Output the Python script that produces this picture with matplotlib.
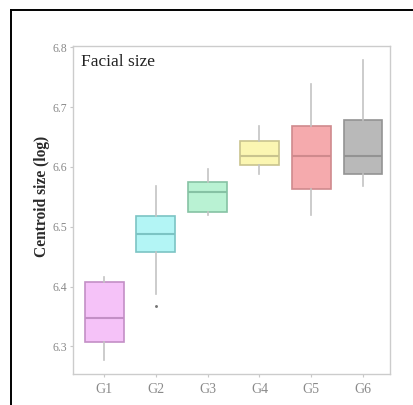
import matplotlib
matplotlib.use("Agg")
import matplotlib.pyplot as plt
from matplotlib.lines import Line2D

groups = ["G1", "G2", "G3", "G4", "G5", "G6"]
q1 = [6.307, 6.458, 6.525, 6.603, 6.563, 6.588]
med = [6.348, 6.488, 6.558, 6.618, 6.618, 6.618]
q3 = [6.408, 6.518, 6.575, 6.643, 6.668, 6.678]
wlo = [6.278, 6.388, 6.519, 6.588, 6.519, 6.568]
whi = [6.416, 6.568, 6.597, 6.668, 6.738, 6.778]
outliers = [[], [6.367], [], [], [], []]
yticks = [6.3, 6.4, 6.5, 6.6, 6.7, 6.8]

fills = ["#f5c2f8", "#b3f5f5", "#b9f2d3", "#fbf6b2", "#f5aaad", "#b9b9b9"]
edges = ["#c38fc6", "#7cc4c4", "#86c2a4", "#c9c48e", "#cf8a8d", "#939393"]

plt.rcParams["font.family"] = ["Liberation Serif", "DejaVu Serif"]

fig = plt.figure(figsize=(4.14, 4.05), dpi=100)
ax = fig.add_axes([73/414, 1-374/405, (390-73)/414, (374-46)/405])

stats = []
for i, g in enumerate(groups):
    stats.append(dict(label=g, q1=q1[i], med=med[i], q3=q3[i],
                      whislo=wlo[i], whishi=whi[i], fliers=outliers[i]))

pos = list(range(1, len(groups) + 1))
bp = ax.bxp(stats, positions=pos, widths=0.75, patch_artist=True,
            showcaps=False,
            whiskerprops=dict(color="#c4c4c4", linewidth=1.2),
            flierprops=dict(marker="o", markersize=1.1, markerfacecolor="#777777",
                            markeredgecolor="#777777"))
for i, b in enumerate(bp["boxes"]):
    b.set_facecolor(fills[i])
    b.set_edgecolor(edges[i])
    b.set_linewidth(1.2)
    bp["medians"][i].set_color(edges[i])
    bp["medians"][i].set_linewidth(1.5)

ax.set_xlim(0.4, 6.52)
ax.set_ylim(6.254, 6.802)
ax.set_yticks(yticks)
ax.set_yticklabels([f"{v:.1f}" for v in yticks])
ax.tick_params(axis="y", colors="#c8c8c8", labelcolor="#8a8a8a", labelsize=8.5,
               length=2.5, width=0.8, pad=1.5)
ax.tick_params(axis="x", colors="#c8c8c8", labelcolor="#8a8a8a", labelsize=10,
               length=2.5, width=0.8, pad=4)
for s in ax.spines.values():
    s.set_color("#cccccc")
    s.set_linewidth(1.0)

ax.set_ylabel("Centroid size (log)", fontsize=11.2, color="#2a2a2a", fontweight="bold")
ax.yaxis.set_label_coords(-0.0726, 0.541)
ax.text(0.025, 0.975, "Facial size", transform=ax.transAxes, fontsize=12.5,
        color="#222222", ha="left", va="top")

fig.add_artist(Line2D([11/414, 1], [1-9.5/405, 1-9.5/405], transform=fig.transFigure,
                      color="black", linewidth=1.4))
fig.add_artist(Line2D([11/414, 11/414], [0, 1-9.5/405], transform=fig.transFigure,
                      color="black", linewidth=1.4))

fig.savefig("out.png", dpi=100)
